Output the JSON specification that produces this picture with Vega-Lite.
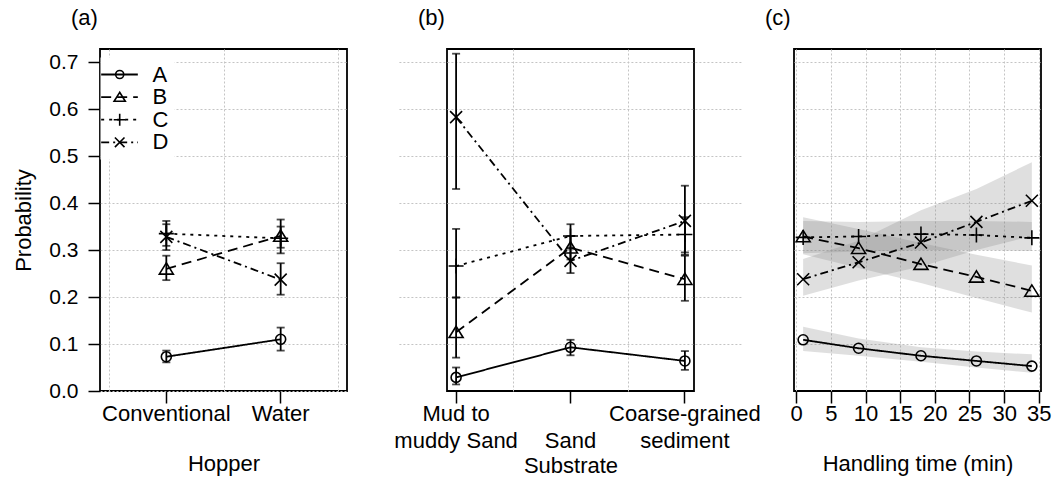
{
  "$schema": "https://vega.github.io/schema/vega-lite/v6.json",
  "background": "white",
  "padding": {"left": 11, "top": 6, "right": 5, "bottom": 0},
  "config": {
    "font": "Liberation Sans",
    "view": {"stroke": "black", "strokeWidth": 1.8},
    "axis": {"labelFontSize": 22, "titleFontSize": 22, "titleFontWeight": "normal", "labelColor": "black", "titleColor": "black", "tickColor": "black", "tickSize": 12, "tickWidth": 1.5, "domain": false, "gridColor": "#c4c4c4", "gridDash": [2, 2], "gridWidth": 1, "labelFont": "Liberation Sans", "titleFont": "Liberation Sans", "labelOverlap": false},
    "legend": {"labelFontSize": 22, "labelColor": "black", "labelFont": "Liberation Sans"},
    "title": {"fontSize": 22, "fontWeight": "normal", "font": "Liberation Sans", "color": "black"}
  },
  "datasets": {
    "hopper": [
      {"hopper": "Conventional", "series": "A", "p": 0.073, "lo": 0.061, "hi": 0.086},
      {"hopper": "Water", "series": "A", "p": 0.110, "lo": 0.086, "hi": 0.135},
      {"hopper": "Conventional", "series": "B", "p": 0.260, "lo": 0.236, "hi": 0.288},
      {"hopper": "Water", "series": "B", "p": 0.330, "lo": 0.305, "hi": 0.350},
      {"hopper": "Conventional", "series": "C", "p": 0.335, "lo": 0.309, "hi": 0.362},
      {"hopper": "Water", "series": "C", "p": 0.325, "lo": 0.293, "hi": 0.365},
      {"hopper": "Conventional", "series": "D", "p": 0.328, "lo": 0.300, "hi": 0.355},
      {"hopper": "Water", "series": "D", "p": 0.237, "lo": 0.205, "hi": 0.272}
    ],
    "substrate": [
      {"substrate": "Mud to muddy Sand", "series": "A", "p": 0.029, "lo": 0.014, "hi": 0.050},
      {"substrate": "Sand", "series": "A", "p": 0.093, "lo": 0.076, "hi": 0.109},
      {"substrate": "Coarse-grained sediment", "series": "A", "p": 0.064, "lo": 0.045, "hi": 0.085},
      {"substrate": "Mud to muddy Sand", "series": "B", "p": 0.125, "lo": 0.071, "hi": 0.199},
      {"substrate": "Sand", "series": "B", "p": 0.305, "lo": 0.280, "hi": 0.330},
      {"substrate": "Coarse-grained sediment", "series": "B", "p": 0.238, "lo": 0.192, "hi": 0.288},
      {"substrate": "Mud to muddy Sand", "series": "C", "p": 0.266, "lo": 0.199, "hi": 0.345},
      {"substrate": "Sand", "series": "C", "p": 0.330, "lo": 0.303, "hi": 0.355},
      {"substrate": "Coarse-grained sediment", "series": "C", "p": 0.333, "lo": 0.295, "hi": 0.370},
      {"substrate": "Mud to muddy Sand", "series": "D", "p": 0.583, "lo": 0.430, "hi": 0.718},
      {"substrate": "Sand", "series": "D", "p": 0.277, "lo": 0.251, "hi": 0.305},
      {"substrate": "Coarse-grained sediment", "series": "D", "p": 0.362, "lo": 0.290, "hi": 0.437}
    ],
    "time": [
      {"time": 1, "series": "A", "p": 0.109, "lo": 0.085, "hi": 0.137},
      {"time": 9, "series": "A", "p": 0.091, "lo": 0.075, "hi": 0.112},
      {"time": 18, "series": "A", "p": 0.075, "lo": 0.062, "hi": 0.093},
      {"time": 26, "series": "A", "p": 0.064, "lo": 0.050, "hi": 0.084},
      {"time": 34, "series": "A", "p": 0.053, "lo": 0.039, "hi": 0.078},
      {"time": 1, "series": "B", "p": 0.329, "lo": 0.291, "hi": 0.370},
      {"time": 9, "series": "B", "p": 0.304, "lo": 0.262, "hi": 0.345},
      {"time": 18, "series": "B", "p": 0.270, "lo": 0.230, "hi": 0.315},
      {"time": 26, "series": "B", "p": 0.243, "lo": 0.198, "hi": 0.290},
      {"time": 34, "series": "B", "p": 0.213, "lo": 0.167, "hi": 0.267},
      {"time": 1, "series": "C", "p": 0.327, "lo": 0.293, "hi": 0.362},
      {"time": 9, "series": "C", "p": 0.329, "lo": 0.297, "hi": 0.360},
      {"time": 18, "series": "C", "p": 0.334, "lo": 0.300, "hi": 0.362},
      {"time": 26, "series": "C", "p": 0.332, "lo": 0.300, "hi": 0.362},
      {"time": 34, "series": "C", "p": 0.326, "lo": 0.298, "hi": 0.360},
      {"time": 1, "series": "D", "p": 0.238, "lo": 0.203, "hi": 0.281},
      {"time": 9, "series": "D", "p": 0.274, "lo": 0.235, "hi": 0.320},
      {"time": 18, "series": "D", "p": 0.316, "lo": 0.265, "hi": 0.385},
      {"time": 26, "series": "D", "p": 0.360, "lo": 0.300, "hi": 0.430},
      {"time": 34, "series": "D", "p": 0.405, "lo": 0.330, "hi": 0.487}
    ]
  },
  "spacing": 100,
  "bounds": "flush",
  "resolve": {"scale": {"shape": "independent", "strokeDash": "independent"}},
  "hconcat": [
    {
      "width": 247, "height": 342,
      "title": {"text": "(a)", "frame": "group", "anchor": "start", "dx": -29, "offset": -3, "baseline": "bottom"},
      "data": {"name": "hopper"},
      "resolve": {"axis": {"x": "independent"}},
      "layer": [
        {
          "mark": {"type": "line", "color": "black", "strokeWidth": 1.8},
          "encoding": {
            "x": {"field": "hopper", "type": "nominal", "sort": ["Conventional", "Water"], "scale": {"type": "band", "domain": ["Conventional", "Water"], "paddingInner": 0, "paddingOuter": 0.08}, "axis": {"orient": "bottom", "title": "Hopper", "labelAngle": 0, "grid": false, "labelPadding": 0, "titlePadding": 29}},
            "y": {"field": "p", "type": "quantitative", "title": "Probability", "scale": {"domain": [0, 0.728], "nice": false, "zero": false}, "axis": {"values": [0, 0.1, 0.2, 0.3, 0.4, 0.5, 0.6, 0.7], "format": ".1f", "grid": true, "labelFontSize": 21, "labelPadding": 10, "titlePadding": 13}},
            "strokeDash": {"field": "series", "type": "nominal", "scale": {"range": [[1, 0], [10, 6], [3, 5], [8, 4, 2, 4]]}, "legend": {"orient": "none", "legendX": 0.5, "legendY": 8.5, "title": null, "symbolType": "M-8,0L8,0", "symbolSize": 21, "symbolStrokeWidth": 1.8, "symbolStrokeColor": "black", "symbolOffset": 2, "labelOffset": 22, "fillColor": "white", "padding": 6, "rowPadding": 0.6, "zindex": 1}}
          }
        },
        {
          "mark": {"type": "errorbar", "ticks": true, "size": 8, "thickness": 1.8, "color": "black"},
          "encoding": {
            "x": {"field": "hopper", "type": "nominal", "sort": ["Conventional", "Water"], "axis": null},
            "y": {"field": "lo", "type": "quantitative", "title": "Probability"},
            "y2": {"field": "hi"},
            "detail": {"field": "series"}
          }
        },
        {
          "mark": {"type": "point", "filled": false, "size": 100, "strokeWidth": 1.6, "color": "black", "opacity": 1},
          "encoding": {
            "x": {"field": "hopper", "type": "nominal", "sort": ["Conventional", "Water"], "axis": {"orient": "bottom", "tickBand": "extent", "grid": true, "labels": false, "ticks": false, "title": null}},
            "y": {"field": "p", "type": "quantitative", "title": "Probability"},
            "shape": {"field": "series", "type": "nominal", "scale": {"domain": ["A", "B", "C", "D"], "range": ["circle", "M0,-1.2L-1.4,1.05L1.4,1.05Z", "M-1.5,0L1.5,0M0,-1.5L0,1.5", "M-1.2,-1.2L1.2,1.2M-1.2,1.2L1.2,-1.2"]}, "legend": {"orient": "none", "legendX": 2.7, "legendY": 8.5, "title": null, "symbolSize": 64, "symbolStrokeWidth": 1.6, "symbolStrokeColor": "black", "symbolFillColor": "transparent", "labelOpacity": 0, "padding": 6, "rowPadding": 0.6, "zindex": 2}}
          }
        }
      ]
    },
    {
      "width": 247, "height": 342,
      "title": {"text": "(b)", "frame": "group", "anchor": "start", "dx": -29, "offset": -3, "baseline": "bottom"},
      "data": {"name": "substrate"},
      "resolve": {"axis": {"x": "independent"}},
      "layer": [
        {
          "mark": {"type": "line", "color": "black", "strokeWidth": 1.8},
          "encoding": {
            "x": {"field": "substrate", "type": "nominal", "sort": ["Mud to muddy Sand", "Sand", "Coarse-grained sediment"], "scale": {"type": "band", "domain": ["Mud to muddy Sand", "Sand", "Coarse-grained sediment"], "range": [-48.1, 295.1], "paddingInner": 0, "paddingOuter": 0}, "axis": {"orient": "bottom", "title": "Substrate", "labelAngle": 0, "grid": false, "labelPadding": 0, "titlePadding": 4, "labelLineHeight": 27, "labelExpr": "datum.value == 'Sand' ? ['', 'Sand'] : datum.value == 'Mud to muddy Sand' ? ['Mud to', 'muddy Sand'] : ['Coarse-grained', 'sediment']"}},
            "y": {"field": "p", "type": "quantitative", "title": null, "scale": {"domain": [0, 0.728], "nice": false, "zero": false}, "axis": {"values": [0.1, 0.2, 0.3, 0.4, 0.5, 0.6, 0.7], "grid": true, "labels": false, "ticks": false}},
            "strokeDash": {"field": "series", "type": "nominal", "scale": {"range": [[1, 0], [10, 6], [3, 5], [8, 4, 2, 4]]}, "legend": null}
          }
        },
        {
          "mark": {"type": "errorbar", "ticks": true, "size": 8, "thickness": 1.8, "color": "black"},
          "encoding": {
            "x": {"field": "substrate", "type": "nominal", "sort": ["Mud to muddy Sand", "Sand", "Coarse-grained sediment"], "axis": null},
            "y": {"field": "lo", "type": "quantitative", "title": null},
            "y2": {"field": "hi"},
            "detail": {"field": "series"}
          }
        },
        {
          "mark": {"type": "point", "filled": false, "size": 100, "strokeWidth": 1.6, "color": "black", "opacity": 1},
          "encoding": {
            "x": {"field": "substrate", "type": "nominal", "sort": ["Mud to muddy Sand", "Sand", "Coarse-grained sediment"], "axis": {"orient": "bottom", "tickBand": "extent", "values": ["Sand"], "grid": true, "labels": false, "ticks": false, "title": null}},
            "y": {"field": "p", "type": "quantitative", "title": null},
            "shape": {"field": "series", "type": "nominal", "scale": {"domain": ["A", "B", "C", "D"], "range": ["circle", "M0,-1.2L-1.4,1.05L1.4,1.05Z", "M-1.5,0L1.5,0M0,-1.5L0,1.5", "M-1.2,-1.2L1.2,1.2M-1.2,1.2L1.2,-1.2"]}, "legend": null}
          }
        }
      ]
    },
    {
      "width": 247, "height": 342,
      "title": {"text": "(c)", "frame": "group", "anchor": "start", "dx": -29, "offset": -3, "baseline": "bottom"},
      "data": {"name": "time"},
      "layer": [
        {
          "mark": {"type": "area", "color": "#808080", "opacity": 0.25},
          "encoding": {
            "x": {"field": "time", "type": "quantitative", "scale": {"domain": [-0.32, 35.32], "nice": false, "zero": false}, "axis": {"values": [0, 5, 10, 15, 20, 25, 30, 35], "labelOverlap": false, "grid": true, "title": "Handling time (min)", "labelPadding": 0, "titlePadding": 29}},
            "y": {"field": "lo", "type": "quantitative", "title": null, "scale": {"domain": [0, 0.728], "nice": false, "zero": false}, "axis": {"values": [0.1, 0.2, 0.3, 0.4, 0.5, 0.6, 0.7], "grid": true, "labels": false, "ticks": false}},
            "y2": {"field": "hi"},
            "detail": {"field": "series"}
          }
        },
        {
          "mark": {"type": "line", "color": "black", "strokeWidth": 1.8},
          "encoding": {
            "x": {"field": "time", "type": "quantitative", "axis": {"values": [0, 5, 10, 15, 20, 25, 30, 35], "labelOverlap": false, "grid": true, "title": "Handling time (min)", "labelPadding": 0, "titlePadding": 29}},
            "y": {"field": "p", "type": "quantitative", "title": null},
            "strokeDash": {"field": "series", "type": "nominal", "scale": {"range": [[1, 0], [10, 6], [3, 5], [8, 4, 2, 4]]}, "legend": null}
          }
        },
        {
          "mark": {"type": "point", "filled": false, "size": 100, "strokeWidth": 1.6, "color": "black", "opacity": 1},
          "encoding": {
            "x": {"field": "time", "type": "quantitative", "axis": {"values": [0, 5, 10, 15, 20, 25, 30, 35], "labelOverlap": false, "grid": true, "title": "Handling time (min)", "labelPadding": 0, "titlePadding": 29}},
            "y": {"field": "p", "type": "quantitative", "title": null},
            "shape": {"field": "series", "type": "nominal", "scale": {"domain": ["A", "B", "C", "D"], "range": ["circle", "M0,-1.2L-1.4,1.05L1.4,1.05Z", "M-1.5,0L1.5,0M0,-1.5L0,1.5", "M-1.2,-1.2L1.2,1.2M-1.2,1.2L1.2,-1.2"]}, "legend": null}
          }
        }
      ]
    }
  ]
}
